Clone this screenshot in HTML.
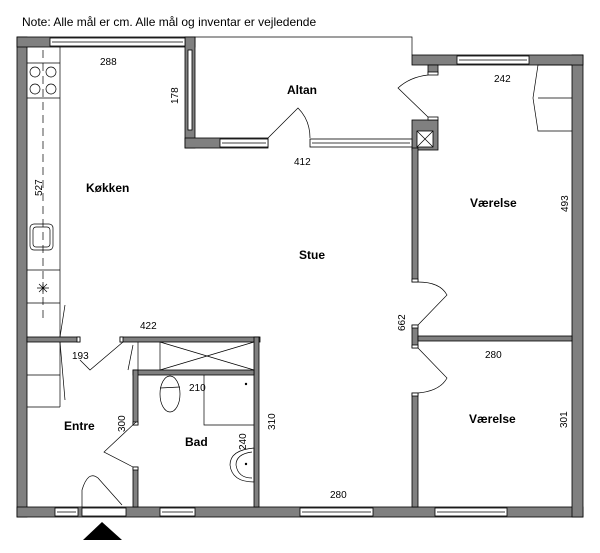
<!DOCTYPE html>
<html><head><meta charset="utf-8"><style>
body{margin:0;background:#fff}
svg{display:block}
text{font-family:"Liberation Sans",sans-serif;fill:#000}
.d{font-size:10px}
.b{font-size:12px;font-weight:bold}
</style></head><body>
<svg width="600" height="553" viewBox="0 0 600 553" xmlns="http://www.w3.org/2000/svg">
<text x="22" y="26" font-size="12">Note: Alle mål er cm. Alle mål og inventar er vejledende</text>
<g fill="#808080" stroke="#000" stroke-width="0.8">
<!-- outer -->
<rect x="17" y="37" width="10" height="480"/>
<rect x="17" y="507" width="566" height="10"/>
<rect x="572" y="55" width="11" height="462"/>
<rect x="17" y="37" width="178" height="10"/>
<rect x="185" y="37" width="10" height="111"/>
<rect x="185" y="138" width="83" height="10"/>
<rect x="412" y="55" width="171" height="10"/>
<rect x="428" y="65" width="10" height="8"/>
<rect x="412" y="120" width="26" height="30"/>
<!-- interior -->
<rect x="412" y="148" width="6" height="134"/>
<rect x="412" y="325" width="6" height="23"/>
<rect x="418" y="336" width="154" height="5"/>
<rect x="412" y="393" width="6" height="114"/>
<rect x="27" y="337" width="53" height="5"/>
<rect x="120" y="337" width="140" height="5"/>
<rect x="254" y="337" width="5" height="170"/>
<rect x="133" y="370" width="121" height="5"/>
<rect x="133" y="370" width="5" height="55"/>
<rect x="133" y="467" width="5" height="40"/>
</g>
<!-- windows -->
<g fill="#fff" stroke="#000" stroke-width="0.8">
<rect x="50" y="38" width="135" height="8"/><line x1="52" y1="42" x2="183" y2="42"/>
<rect x="188" y="50" width="4" height="80"/>
<rect x="220" y="139" width="48" height="8"/><line x1="222" y1="143" x2="266" y2="143"/>
<rect x="310" y="139" width="102" height="8"/><line x1="312" y1="143" x2="410" y2="143"/>
<rect x="457" y="56" width="72" height="8"/><line x1="459" y1="60" x2="527" y2="60"/>
<rect x="55" y="508" width="23" height="8"/><line x1="57" y1="512" x2="76" y2="512"/>
<rect x="82" y="508" width="44" height="8"/>
<rect x="160" y="508" width="35" height="8"/><line x1="162" y1="512" x2="193" y2="512"/>
<rect x="300" y="508" width="73" height="8"/><line x1="302" y1="512" x2="371" y2="512"/>
<rect x="435" y="508" width="72" height="8"/><line x1="437" y1="512" x2="505" y2="512"/>
<!-- caps -->
<rect x="428" y="72" width="10" height="3"/><rect x="428" y="117" width="10" height="3"/>
<rect x="412" y="279" width="6" height="3"/><rect x="412" y="325" width="6" height="3"/>
<rect x="412" y="345" width="6" height="3"/><rect x="412" y="393" width="6" height="3"/>
<rect x="77" y="337" width="3" height="5"/><rect x="120" y="337" width="3" height="5"/>
<rect x="133" y="422" width="5" height="3"/><rect x="133" y="467" width="5" height="3"/>
<!-- X box -->
<rect x="417" y="131" width="16" height="16"/>
</g>
<g fill="none" stroke="#000" stroke-width="0.7">
<line x1="417" y1="131" x2="433" y2="147"/><line x1="433" y1="131" x2="417" y2="147"/>
<!-- altan outline -->
<polyline points="195,37 412,37 412,55"/>
<!-- doors -->
<path d="M428,117 L398,88 Q410,77 428,75"/>
<path d="M268,138 L298,108 Q310,120 310,138"/>
<path d="M418,325 L447,295 Q440,282 418,282"/>
<path d="M418,348 L447,378 Q440,391 418,393"/>
<path d="M123,342 L90,370 L80,360"/>
<path d="M136,422 L104,452 L133,467"/>
<path d="M82,507 L82,490 Q88,470 98,478 L122,505"/>
<!-- kitchen counter -->
<line x1="60" y1="47" x2="60" y2="337"/>
<line x1="43" y1="50" x2="43" y2="320" stroke-dasharray="8,5"/>
<line x1="27" y1="63" x2="60" y2="63"/><line x1="27" y1="98" x2="60" y2="98"/>
<circle cx="35" cy="72" r="5"/><circle cx="51" cy="72" r="5"/>
<circle cx="35" cy="89" r="5"/><circle cx="51" cy="89" r="5"/>
<rect x="30" y="224" width="23" height="26" rx="4"/><rect x="33" y="227" width="17" height="20" rx="3"/>
<line x1="27" y1="270" x2="60" y2="270"/><line x1="27" y1="303" x2="60" y2="303"/>
<path d="M37,288 h12 M43,282 v12 M39,284 l8,8 M47,284 l-8,8"/>
<line x1="65" y1="305" x2="60" y2="337"/>
<!-- entre cabinets -->
<line x1="60" y1="342" x2="60" y2="407"/><line x1="27" y1="375" x2="60" y2="375"/><line x1="27" y1="407" x2="60" y2="407"/>
<line x1="60" y1="342" x2="65" y2="400"/>
<line x1="133" y1="345" x2="128" y2="370"/>
<!-- closet -->
<line x1="138" y1="342" x2="138" y2="370"/><line x1="160" y1="342" x2="160" y2="370"/>
<line x1="160" y1="342" x2="254" y2="370"/><line x1="254" y1="342" x2="160" y2="370"/>
<!-- toilet -->
<ellipse cx="170" cy="394" rx="10" ry="18"/><line x1="160" y1="388" x2="180" y2="387"/>
<!-- shower -->
<polyline points="204,375 204,425 254,425"/>
<!-- sink -->
<path d="M254,448 Q230,450 230,465 Q232,482 254,482"/>
<path d="M252,452 Q236,454 236,465 Q238,478 252,478"/>
<line x1="254" y1="448" x2="254" y2="482"/>
<!-- wardrobe bedroom -->
<path d="M572,65 L538,65 L533,98 L538,131 L572,131 M538,98 L572,98"/>
</g>
<circle cx="246" cy="384" r="1.2" fill="#000"/>
<circle cx="246" cy="464" r="1.2" fill="#000"/>
<polygon points="83,540 122,540 102,522" fill="#000"/>
<!-- labels -->
<text class="b" x="86" y="192">Køkken</text>
<text class="b" x="287" y="94">Altan</text>
<text class="b" x="299" y="259">Stue</text>
<text class="b" x="470" y="207">Værelse</text>
<text class="b" x="469" y="423">Værelse</text>
<text class="b" x="64" y="430">Entre</text>
<text class="b" x="185" y="446">Bad</text>
<text class="d" x="100" y="65">288</text>
<text class="d" x="294" y="165">412</text>
<text class="d" x="494" y="82">242</text>
<text class="d" x="485" y="358">280</text>
<text class="d" x="330" y="498">280</text>
<text class="d" x="140" y="329">422</text>
<text class="d" x="72" y="359">193</text>
<text class="d" x="189" y="391">210</text>
<text class="d" transform="translate(178,104) rotate(-90)">178</text>
<text class="d" transform="translate(42,196) rotate(-90)">527</text>
<text class="d" transform="translate(568,212) rotate(-90)">493</text>
<text class="d" transform="translate(405,331) rotate(-90)">662</text>
<text class="d" transform="translate(567,428) rotate(-90)">301</text>
<text class="d" transform="translate(125,432) rotate(-90)">300</text>
<text class="d" transform="translate(275,430) rotate(-90)">310</text>
<text class="d" transform="translate(246,450) rotate(-90)">240</text>
</svg>
</body></html>
